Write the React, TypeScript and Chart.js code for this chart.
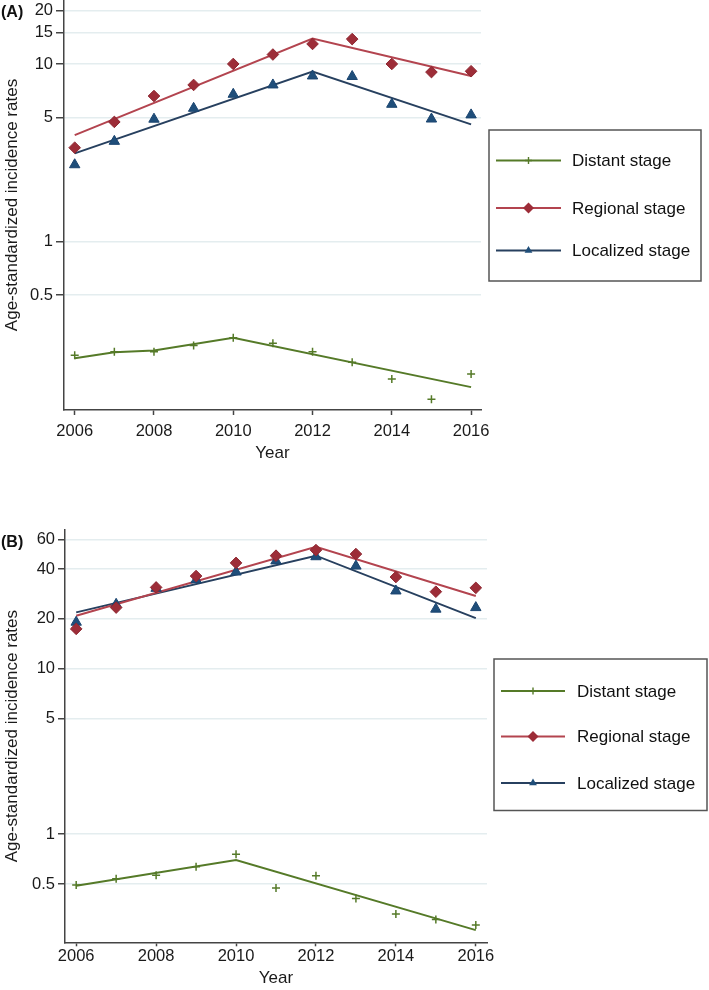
import React, { useEffect, useRef } from "react";
import { Chart, registerables } from "chart.js";

Chart.register(...registerables);

// ---------- data ----------
const years = [2006, 2007, 2008, 2009, 2010, 2011, 2012, 2013, 2014, 2015, 2016];
const xTicks = [2006, 2008, 2010, 2012, 2014, 2016];
const seriesNames = ["Distant stage", "Regional stage", "Localized stage"];

// Panel A
const yTicksA = [0.5, 1, 5, 10, 15, 20];
const distantA = [0.23, 0.24, 0.24, 0.261, 0.288, 0.268, 0.24, 0.21, 0.169, 0.13, 0.18];
const regionalA = [3.38, 4.72, 6.6, 7.62, 10.0, 11.3, 12.96, 13.8, 10.0, 9.0, 9.1];
const localizedA = [2.71, 3.67, 4.89, 5.63, 6.75, 7.62, 8.56, 8.5, 5.93, 4.9, 5.17];
const distantFitAX = [2006, 2007, 2008, 2010, 2016];
const distantFitAY = [0.221, 0.239, 0.244, 0.288, 0.152];
const regionalFitAX = [2006, 2012, 2016];
const regionalFitAY = [3.98, 13.9, 8.56];
const localizedFitAX = [2006, 2012, 2016];
const localizedFitAY = [3.14, 9.05, 4.57];

// Panel B
const yTicksB = [0.5, 1, 5, 10, 20, 40, 60];
const distantB = [0.492, 0.537, 0.565, 0.635, 0.757, 0.472, 0.561, 0.409, 0.329, 0.305, 0.282];
const regionalB = [17.4, 23.4, 31.0, 36.3, 43.6, 48.2, 52.1, 49.3, 35.8, 29.2, 30.8];
const localizedB = [19.1, 24.5, 30.6, 34.4, 38.4, 44.8, 47.5, 41.7, 29.5, 22.9, 23.4];
const distantFitBX = [2006, 2010, 2016];
const distantFitBY = [0.488, 0.697, 0.263];
const regionalFitBX = [2006, 2012, 2016];
const regionalFitBY = [20.9, 54.6, 27.5];
const localizedFitBX = [2006, 2012, 2016];
const localizedFitBY = [21.9, 48.2, 20.2];

// ---------- styles ----------
const FONT = '"Liberation Sans", Arial, Helvetica, sans-serif';
const GREEN = "#557a28";
const RED_M = "#9d2d38";
const RED_L = "#b3444f";
const BLUE_M = "#1f4e7a";
const BLUE_L = "#27405f";
const AXIS = "#444444";
const GRID = "#e4edef";

const pts = (xs: number[], ys: number[]) => xs.map((x, i) => ({ x, y: ys[i] }));

function drawMarker(ctx: CanvasRenderingContext2D, kind: string, x: number, y: number, r: number, color: string) {
  ctx.save();
  ctx.fillStyle = color;
  ctx.strokeStyle = color;
  ctx.lineWidth = 1.4;
  ctx.beginPath();
  if (kind === "cross") {
    ctx.moveTo(x - r, y); ctx.lineTo(x + r, y);
    ctx.moveTo(x, y - r); ctx.lineTo(x, y + r);
    ctx.stroke();
  } else if (kind === "diamond") {
    ctx.moveTo(x, y - r); ctx.lineTo(x + r, y); ctx.lineTo(x, y + r); ctx.lineTo(x - r, y);
    ctx.closePath(); ctx.fill();
  } else {
    const h = r * 1.5;
    ctx.moveTo(x, y - r); ctx.lineTo(x + r * 0.866, y + h - r); ctx.lineTo(x - r * 0.866, y + h - r);
    ctx.closePath(); ctx.fill();
  }
  ctx.restore();
}

const legendPlugin = {
  id: "stageLegend",
  afterDraw(chart: any, _args: any, opts: any) {
    const ctx: CanvasRenderingContext2D = chart.ctx;
    ctx.save();
    // panel label
    ctx.fillStyle = "#111";
    ctx.font = `bold 16px ${FONT}`;
    ctx.textBaseline = "alphabetic";
    ctx.textAlign = "left";
    ctx.fillText(opts.panel, opts.panelPos[0], opts.panelPos[1]);
    // legend box
    const [x1, y1, x2, y2] = opts.box;
    ctx.strokeStyle = "#555";
    ctx.lineWidth = 1.5;
    ctx.strokeRect(x1, y1, x2 - x1, y2 - y1);
    const lineCols = [GREEN, RED_L, BLUE_L];
    const markCols = [GREEN, RED_M, BLUE_M];
    const kinds = ["cross", "diamond", "triangle"];
    const sizes = [3.5, 5.5, 4.5];
    seriesNames.forEach((name, i) => {
      const y = opts.rows[i];
      ctx.strokeStyle = lineCols[i];
      ctx.lineWidth = 1.8;
      ctx.beginPath();
      ctx.moveTo(opts.lineX[0], y);
      ctx.lineTo(opts.lineX[1], y);
      ctx.stroke();
      drawMarker(ctx, kinds[i], (opts.lineX[0] + opts.lineX[1]) / 2, y, sizes[i], markCols[i]);
      ctx.fillStyle = "#111";
      ctx.font = `17px ${FONT}`;
      ctx.textBaseline = "middle";
      ctx.fillText(name, opts.textX, y + 1);
    });
    ctx.restore();
  },
};

interface PanelSpec {
  distant: number[]; regional: number[]; localized: number[];
  dFit: [number[], number[]]; rFit: [number[], number[]]; lFit: [number[], number[]];
  yTicks: number[]; yMin: number; yMax: number; xMin: number; xMax: number;
  padTop: number; padRight: number; yWidth: number; xHeight: number;
  yTickLen: number; xTickLen: number; xLabelPad: number; xTitlePad: number;
  legend: any;
}

function makeConfig(p: PanelSpec): any {
  return {
    type: "scatter",
    data: {
      datasets: [
        { label: seriesNames[0], data: pts(years, p.distant), pointStyle: "cross", pointRadius: 4, borderColor: GREEN, backgroundColor: GREEN, pointBorderWidth: 1.5, showLine: false },
        { label: seriesNames[1], data: pts(years, p.regional), pointStyle: "rectRot", pointRadius: 5.8, borderColor: "#8e2731", backgroundColor: RED_M, pointBorderWidth: 1, showLine: false },
        { label: seriesNames[2], data: pts(years, p.localized), pointStyle: "triangle", pointRadius: 6, borderColor: "#1b4570", backgroundColor: BLUE_M, pointBorderWidth: 1, showLine: false },
        { label: "fitD", data: pts(p.dFit[0], p.dFit[1]), showLine: true, pointRadius: 0, borderColor: GREEN, borderWidth: 2, fill: false },
        { label: "fitR", data: pts(p.rFit[0], p.rFit[1]), showLine: true, pointRadius: 0, borderColor: RED_L, borderWidth: 2, fill: false },
        { label: "fitL", data: pts(p.lFit[0], p.lFit[1]), showLine: true, pointRadius: 0, borderColor: BLUE_L, borderWidth: 2, fill: false },
      ],
    },
    options: {
      animation: false,
      responsive: false,
      devicePixelRatio: 1,
      layout: { padding: { left: 0, right: p.padRight, top: p.padTop, bottom: 0 } },
      plugins: {
        legend: { display: false },
        tooltip: { enabled: false },
        stageLegend: p.legend,
      },
      scales: {
        x: {
          type: "linear",
          min: p.xMin,
          max: p.xMax,
          afterBuildTicks: (s: any) => { s.ticks = xTicks.map((v) => ({ value: v })); },
          afterFit: (s: any) => { s.height = p.xHeight; s.paddingLeft = 0; s.paddingRight = 0; },
          ticks: { callback: (v: any) => String(v), color: "#1a1a1a", font: { family: FONT, size: 16.5 }, padding: p.xLabelPad, maxRotation: 0, autoSkip: false },
          grid: { drawOnChartArea: false, drawTicks: true, tickLength: p.xTickLen, tickColor: AXIS, tickWidth: 1.5 },
          border: { display: true, color: AXIS, width: 1.5 },
          title: { display: true, text: "Year", color: "#1a1a1a", font: { family: FONT, size: 17 }, padding: { top: 0, bottom: p.xTitlePad } },
        },
        y: {
          type: "logarithmic",
          min: p.yMin,
          max: p.yMax,
          afterBuildTicks: (s: any) => { s.ticks = p.yTicks.map((v) => ({ value: v })); },
          afterFit: (s: any) => { s.width = p.yWidth; s.paddingTop = 0; s.paddingBottom = 0; },
          ticks: { callback: (v: any) => String(v), color: "#1a1a1a", font: { family: FONT, size: 16.5 }, padding: 3, autoSkip: false },
          grid: { color: GRID, lineWidth: 1.5, drawTicks: true, tickLength: p.yTickLen, tickColor: AXIS, tickWidth: 1.5 },
          border: { display: true, color: AXIS, width: 1.5 },
          title: { display: true, text: "Age-standardized incidence rates", color: "#1a1a1a", font: { family: FONT, size: 17 }, padding: { top: 2, bottom: 0 } },
        },
      },
    },
    plugins: [legendPlugin],
  };
}

// canvas A is shifted 20px above the page so that its plot can reach the very top
const specA: PanelSpec = {
  distant: distantA, regional: regionalA, localized: localizedA,
  dFit: [distantFitAX, distantFitAY], rFit: [regionalFitAX, regionalFitAY], lFit: [localizedFitAX, localizedFitAY],
  yTicks: yTicksA, yMin: 0.113, yMax: 22.9, xMin: 2005.73, xMax: 2016.25,
  padTop: 20, padRight: 228, yWidth: 64, xHeight: 60,
  yTickLen: 8, xTickLen: 5, xLabelPad: 7, xTitlePad: 6,
  legend: { panel: "(A)", panelPos: [1, 36.5], box: [489, 150, 701, 301], rows: [180.5, 228, 270.5], lineX: [496, 561], textX: 572 },
};

const specB: PanelSpec = {
  distant: distantB, regional: regionalB, localized: localizedB,
  dFit: [distantFitBX, distantFitBY], rFit: [regionalFitBX, regionalFitBY], lFit: [localizedFitBX, localizedFitBY],
  yTicks: yTicksB, yMin: 0.222, yMax: 68.9, xMin: 2005.72, xMax: 2016.28,
  padTop: 50, padRight: 222, yWidth: 65, xHeight: 47.7,
  yTickLen: 7, xTickLen: 4, xLabelPad: 0, xTitlePad: 1,
  legend: { panel: "(B)", panelPos: [1, 66.5], box: [494, 179, 707, 330.5], rows: [211, 256.5, 303], lineX: [501, 565], textX: 577 },
};

export default function App() {
  const refA = useRef<HTMLCanvasElement>(null);
  const refB = useRef<HTMLCanvasElement>(null);
  useEffect(() => {
    const a = new Chart(refA.current as HTMLCanvasElement, makeConfig(specA));
    const b = new Chart(refB.current as HTMLCanvasElement, makeConfig(specB));
    return () => { a.destroy(); b.destroy(); };
  }, []);
  return (
    <div style={{ position: "absolute", left: 0, top: 0, width: 709, height: 990, background: "#fff", overflow: "hidden" }}>
      <canvas ref={refA} width={709} height={490} style={{ position: "absolute", left: 0, top: -20, width: 709, height: 490 }} />
      <canvas ref={refB} width={709} height={510} style={{ position: "absolute", left: 0, top: 480, width: 709, height: 510 }} />
    </div>
  );
}
